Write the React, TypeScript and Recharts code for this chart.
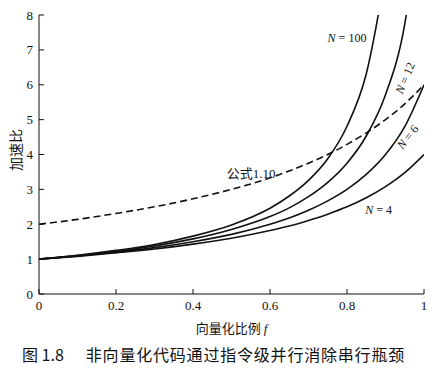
import { LineChart, Line, XAxis, YAxis, ReferenceDot, Label } from "recharts";

// 向量化比例 f
const fracs = [0, 0.1, 0.2, 0.3, 0.4, 0.5, 0.6, 0.65, 0.7, 0.75, 0.8, 0.85, 0.9, 0.95, 1];
// 加速比 for each N
const n4 = [1, 1.08, 1.18, 1.29, 1.43, 1.6, 1.82, 1.95, 2.11, 2.29, 2.5, 2.76, 3.08, 3.48, 4];
const n6 = [1, 1.09, 1.2, 1.33, 1.5, 1.71, 2.0, 2.18, 2.4, 2.67, 3.0, 3.43, 4.0, 4.8, 6];
const n12 = [1, 1.1, 1.22, 1.38, 1.58, 1.85, 2.22, 2.47, 2.79, 3.2, 3.75, 4.53, 5.71, 7.74, 12];
const n100 = [1, 1.11, 1.25, 1.42, 1.66, 1.98, 2.46, 2.81, 3.26, 3.88, 4.81, 6.31, 9.17, null, null];
// 公式1.10 (dashed)
const eq110 = [2, 2.14, 2.31, 2.5, 2.73, 3.0, 3.33, 3.53, 3.75, 4.0, 4.29, 4.62, 5.0, 5.45, 6];

const xTicks = [0, 0.2, 0.4, 0.6, 0.8, 1];
const yTicks = [0, 1, 2, 3, 4, 5, 6, 7, 8];

const data = fracs.map((f, i) => ({
  f,
  n4: n4[i],
  n6: n6[i],
  n12: n12[i],
  n100: n100[i],
  eq: eq110[i],
}));

const serif = "'Liberation Serif', 'DejaVu Serif', serif";
const cjk = "'Noto Sans CJK SC', sans-serif";
const ink = "#111";

// curve annotations in data coords
const notes = [
  { f: 0.8, v: 7.33, angle: 0, n: "100" },
  { f: 0.951, v: 6.19, angle: -67, n: "12" },
  { f: 0.958, v: 4.5, angle: -52, n: "6" },
  { f: 0.882, v: 2.41, angle: 0, n: "4" },
];

const noteShape = (angle: number, n: string) => (p: any) => (
  <text
    x={p.cx}
    y={p.cy}
    textAnchor="middle"
    dominantBaseline="central"
    transform={`rotate(${angle} ${p.cx} ${p.cy})`}
    fontFamily={serif}
    fontSize={12}
    fill={ink}
  >
    <tspan fontStyle="italic">N</tspan>
    <tspan> = {n}</tspan>
  </text>
);

export default function App() {
  return (
    <div style={{ position: "absolute", left: 0, top: 0, width: 443, height: 372, background: "#fff" }}>
      <LineChart width={443} height={340} data={data} margin={{ top: 15, right: 19, left: 0, bottom: 0 }}>
        <XAxis
          dataKey="f"
          type="number"
          domain={[0, 1]}
          ticks={xTicks}
          allowDataOverflow
          height={46}
          tickSize={-5}
          tickMargin={12}
          stroke={ink}
          tick={{ fontFamily: serif, fontSize: 13, fill: ink }}
        >
          <Label
            content={(p: any) => (
              <text
                x={p.viewBox.x + p.viewBox.width / 2}
                y={333}
                textAnchor="middle"
                fontFamily={cjk}
                fontSize={13}
                fill={ink}
              >
                向量化比例 <tspan fontFamily={serif} fontStyle="italic">f</tspan>
              </text>
            )}
          />
        </XAxis>
        <XAxis
          xAxisId="t"
          orientation="top"
          type="number"
          domain={[0, 1]}
          ticks={xTicks}
          allowDataOverflow
          height={0}
          tickSize={-5}
          tickFormatter={() => ""}
          stroke={ink}
        />
        <YAxis
          type="number"
          domain={[0, 8]}
          ticks={yTicks}
          allowDataOverflow
          width={39}
          tickSize={-5}
          tickMargin={11}
          stroke={ink}
          tick={{ fontFamily: serif, fontSize: 13, fill: ink }}
        >
          <Label
            content={() => (
              <text
                x={15}
                y={150}
                textAnchor="middle"
                dominantBaseline="central"
                transform="rotate(-90 15 150)"
                fontFamily={cjk}
                fontSize={14}
                fill={ink}
              >
                加速比
              </text>
            )}
          />
        </YAxis>
        <YAxis
          yAxisId="r"
          orientation="right"
          type="number"
          domain={[0, 8]}
          ticks={yTicks}
          allowDataOverflow
          width={0}
          tickSize={-5}
          tickFormatter={() => ""}
          stroke={ink}
        />
        <Line type="monotone" dataKey="eq" stroke={ink} strokeWidth={1.6} strokeDasharray="7 4" dot={false} isAnimationActive={false} />
        <Line type="monotone" dataKey="n4" stroke={ink} strokeWidth={1.6} dot={false} isAnimationActive={false} />
        <Line type="monotone" dataKey="n6" stroke={ink} strokeWidth={1.6} dot={false} isAnimationActive={false} />
        <Line type="monotone" dataKey="n12" stroke={ink} strokeWidth={1.6} dot={false} isAnimationActive={false} />
        <Line type="monotone" dataKey="n100" stroke={ink} strokeWidth={1.6} dot={false} connectNulls={false} isAnimationActive={false} />
        {notes.map((n) => (
          <ReferenceDot key={n.n} x={n.f} y={n.v} r={0} shape={noteShape(n.angle, n.n)} />
        ))}
        <ReferenceDot
          x={0.551}
          y={3.47}
          r={0}
          shape={(p: any) => (
            <text x={p.cx} y={p.cy} textAnchor="middle" dominantBaseline="central" fontFamily={cjk} fontSize={13} fill={ink}>
              公式<tspan fontFamily={serif}>1.10</tspan>
            </text>
          )}
        />
      </LineChart>
      <div
        style={{
          position: "absolute",
          left: 22,
          top: 342,
          fontFamily: cjk,
          fontSize: 16,
          color: ink,
          whiteSpace: "nowrap",
        }}
      >
        <span>图 1.8</span>
        <span style={{ marginLeft: 22, letterSpacing: 0.8 }}>非向量化代码通过指令级并行消除串行瓶颈</span>
      </div>
    </div>
  );
}
